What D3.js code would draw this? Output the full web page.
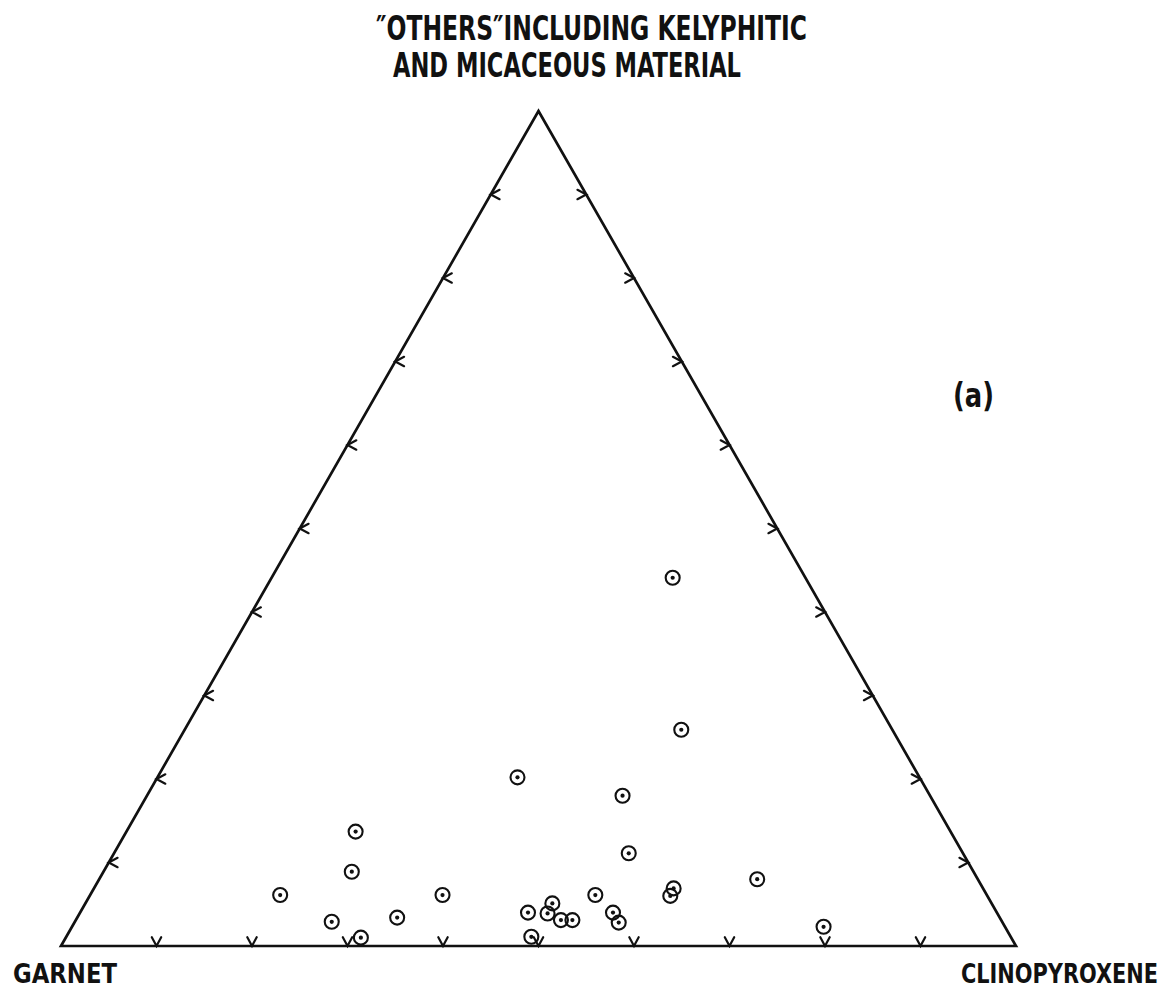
<!DOCTYPE html>
<html>
<head>
<meta charset="utf-8">
<script src="https://cdn.jsdelivr.net/npm/d3@7"></script>
<style>
  html, body { margin: 0; padding: 0; background: #fff; }
  svg { display: block; }
  .lbl { font-family: "Liberation Sans Narrow", "DejaVu Sans Condensed", Roboto, sans-serif; font-weight: bold; fill: #111; }
</style>
</head>
<body>
<svg id="chart" width="1168" height="992"></svg>
<script>
// Modal composition (%) of each sample: garnet, clinopyroxene, "others"
const garnet        = [13.9, 22.1, 42.1, 32.2, 62.3, 65.1, 35.0, 74.0, 57.0, 63.1, 70.2, 68.1, 23.1, 32.4, 33.2, 41.0, 40.2, 40.2, 46.0, 47.1, 49.1, 46.1, 44.9, 50.2, 19.0];
const clinopyroxene = [42.0, 52.0, 37.7, 49.8, 24.0, 26.0, 53.9, 19.9, 36.9, 33.5, 26.9, 30.9, 68.9, 60.7, 60.8, 52.9, 55.8, 57.0, 48.9, 49.0, 46.9, 50.8, 52.0, 48.7, 78.7];
const others        = [44.1, 25.9, 20.2, 18.0, 13.7,  8.9, 11.1,  6.1,  6.1,  3.4,  2.9,  1.0,  8.0,  6.9,  6.0,  6.1,  4.0,  2.8,  5.1,  3.9,  4.0,  3.1,  3.1,  1.1,  2.3];

// Tick fractions along each side of the triangle
const tickFractions = [0.1, 0.2, 0.3, 0.4, 0.5, 0.6, 0.7, 0.8, 0.9];

const titleLines = ["\u2033OTHERS\u2033INCLUDING KELYPHITIC", "AND MICACEOUS MATERIAL"];
const cornerLabels = ["GARNET", "CLINOPYROXENE"];
const panelLabel = "(a)";

const svg = d3.select("#chart");

// Ternary -> cartesian scales
const xScale = d3.scaleLinear().domain([0, 1]).range([61, 1016]);   // clinopyroxene share + half of "others"
const yScale = d3.scaleLinear().domain([0, 1]).range([946, 111]);   // "others" share

function project(g, c, o) {
  const s = g + c + o;
  const cf = c / s, of = o / s;
  return [xScale(cf + of / 2), yScale(of)];
}

const G = project(1, 0, 0), C = project(0, 1, 0), O = project(0, 0, 1);

// Triangle frame
svg.append("path")
  .attr("d", d3.line()([G, C, O, G]) + "Z")
  .attr("fill", "none")
  .attr("stroke", "#111")
  .attr("stroke-width", 2.7)
  .attr("stroke-linejoin", "miter");

// Chevron ticks: vertex on the edge, arms opening toward the interior
const armLen = 10, half = 28 * Math.PI / 180;
function chevron(p, axisAngle) {
  // axisAngle: direction (radians, screen coords) the chevron opens toward
  const a1 = axisAngle - half, a2 = axisAngle + half;
  return d3.line()([
    [p[0] + armLen * Math.cos(a1), p[1] + armLen * Math.sin(a1)],
    p,
    [p[0] + armLen * Math.cos(a2), p[1] + armLen * Math.sin(a2)]
  ]);
}
const ticks = svg.append("g")
  .attr("fill", "none").attr("stroke", "#111")
  .attr("stroke-width", 2.2).attr("stroke-linecap", "round");

tickFractions.forEach(f => {
  // base: garnet-cpx edge, open upward
  ticks.append("path").attr("d", chevron(project(1 - f, f, 0), -Math.PI / 2));
  // left: garnet-others edge, open rightward
  ticks.append("path").attr("d", chevron(project(1 - f, 0, f), 0));
  // right: cpx-others edge, open leftward
  ticks.append("path").attr("d", chevron(project(0, 1 - f, f), Math.PI));
});

// Samples: open circle with a centre dot
const pts = garnet.map((g, i) => project(g, clinopyroxene[i], others[i]));
const marks = svg.append("g");
marks.selectAll("circle.ring").data(pts).join("circle")
  .attr("class", "ring")
  .attr("cx", d => d[0]).attr("cy", d => d[1]).attr("r", 7)
  .attr("fill", "none").attr("stroke", "#111").attr("stroke-width", 2.1);
marks.selectAll("circle.dot").data(pts).join("circle")
  .attr("class", "dot")
  .attr("cx", d => d[0]).attr("cy", d => d[1]).attr("r", 2.1)
  .attr("fill", "#111");

// Labels
function label(text, x, y, size, width, anchor) {
  svg.append("text").attr("class", "lbl")
    .attr("x", x).attr("y", y)
    .attr("font-size", size)
    .attr("text-anchor", anchor || "start")
    .attr("textLength", width)
    .attr("lengthAdjust", "spacingAndGlyphs")
    .text(text);
}
label(titleLines[0], 376, 40, 33, 431);
label(titleLines[1], 393, 77, 33, 348);
label(cornerLabels[0], 13, 983, 27, 104);
label(cornerLabels[1], 1158, 983, 27, 197, "end");
label(panelLabel, 953, 407, 34, 41);
</script>
</body>
</html>
